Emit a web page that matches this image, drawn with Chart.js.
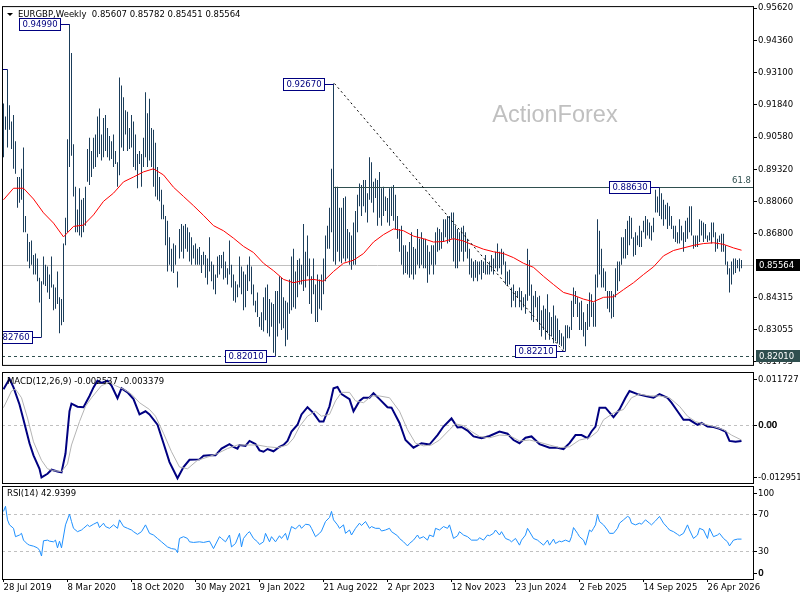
<!DOCTYPE html>
<html>
<head>
<meta charset="utf-8">
<title>EURGBP Weekly</title>
<script src="https://cdn.jsdelivr.net/npm/chart.js@4.4.1/dist/chart.umd.min.js"></script>
<style>
  html, body { margin: 0; padding: 0; background: #fff; }
  #wrap { position: relative; width: 800px; height: 600px; overflow: hidden; background: #fff; }
  canvas { position: absolute; left: 0; }
</style>
</head>
<body>
<div id="wrap">
  <canvas id="priceChart" width="800" height="371" style="top:0px"></canvas>
  <canvas id="macdChart" width="800" height="114" style="top:370px"></canvas>
  <canvas id="rsiChart" width="800" height="116" style="top:484px"></canvas>
</div>
<script>
// Weekly bars, one per week starting 28 Jul 2019 (index 0)
const highs = [
  0.9189, 0.9138, 0.9322, 0.9182, 0.9119, 0.9144, 0.9042, 0.8902, 0.8902, 0.8934,
  0.9017, 0.8750, 0.8680, 0.8648, 0.8654, 0.8597, 0.8603, 0.8584, 0.8508, 0.8495,
  0.8591, 0.8559, 0.8552, 0.8521, 0.8591, 0.8482, 0.8470, 0.8533, 0.8432, 0.8425,
  0.8642, 0.8743, 0.9049, 0.9499, 0.9386, 0.9030, 0.8864, 0.8775, 0.8858, 0.8813,
  0.8820, 0.8864, 0.9011, 0.9055, 0.9004, 0.9055, 0.9068, 0.9138, 0.9170, 0.9068,
  0.9132, 0.9144, 0.9093, 0.9062, 0.9042, 0.9068, 0.9004, 0.8960, 0.9291, 0.9259,
  0.9214, 0.9163, 0.9157, 0.9093, 0.9144, 0.9119, 0.9068, 0.8992, 0.9004, 0.8992,
  0.9055, 0.9233, 0.9151, 0.9208, 0.9093, 0.9087, 0.9036, 0.8941, 0.8902, 0.8852,
  0.8794, 0.8750, 0.8731, 0.8667, 0.8622, 0.8642, 0.8635, 0.8533, 0.8699, 0.8718,
  0.8712, 0.8718, 0.8705, 0.8686, 0.8667, 0.8635, 0.8642, 0.8622, 0.8629, 0.8597,
  0.8610, 0.8597, 0.8584, 0.8667, 0.8572, 0.8559, 0.8521, 0.8591, 0.8597, 0.8597,
  0.8610, 0.8572, 0.8546, 0.8654, 0.8559, 0.8521, 0.8495, 0.8482, 0.8591, 0.8552,
  0.8533, 0.8521, 0.8559, 0.8591, 0.8552, 0.8482, 0.8419, 0.8451, 0.8355, 0.8374,
  0.8432, 0.8470, 0.8482, 0.8425, 0.8412, 0.8406, 0.8457, 0.8457, 0.8514, 0.8508,
  0.8432, 0.8419, 0.8412, 0.8502, 0.8591, 0.8622, 0.8533, 0.8578, 0.8584, 0.8559,
  0.8718, 0.8610, 0.8673, 0.8584, 0.8514, 0.8584, 0.8482, 0.8521, 0.8502, 0.8521,
  0.8584, 0.8673, 0.8712, 0.8782, 0.8934, 0.9267, 0.8864, 0.8864, 0.8782, 0.8782,
  0.8820, 0.8826, 0.8699, 0.8686, 0.8673, 0.8724, 0.8769, 0.8833, 0.8877, 0.8871,
  0.8890, 0.8890, 0.8839, 0.8979, 0.8960, 0.8883, 0.8896, 0.8890, 0.8922, 0.8858,
  0.8864, 0.8826, 0.8820, 0.8858, 0.8864, 0.8871, 0.8833, 0.8750, 0.8699, 0.8712,
  0.8635, 0.8635, 0.8610, 0.8648, 0.8686, 0.8629, 0.8622, 0.8699, 0.8661, 0.8686,
  0.8661, 0.8661, 0.8635, 0.8610, 0.8635, 0.8635, 0.8686, 0.8705, 0.8699, 0.8686,
  0.8737, 0.8737, 0.8750, 0.8750, 0.8763, 0.8763, 0.8712, 0.8699, 0.8686, 0.8705,
  0.8712, 0.8686, 0.8661, 0.8622, 0.8584, 0.8572, 0.8578, 0.8572, 0.8572, 0.8578,
  0.8572, 0.8597, 0.8559, 0.8572, 0.8597, 0.8584, 0.8610, 0.8642, 0.8610, 0.8622,
  0.8610, 0.8572, 0.8533, 0.8540, 0.8470, 0.8482, 0.8457, 0.8457, 0.8470, 0.8457,
  0.8432, 0.8444, 0.8622, 0.8578, 0.8482, 0.8438, 0.8457, 0.8432, 0.8438, 0.8381,
  0.8400, 0.8387, 0.8444, 0.8374, 0.8355, 0.8400, 0.8361, 0.8349, 0.8304, 0.8292,
  0.8279, 0.8323, 0.8323, 0.8317, 0.8419, 0.8470, 0.8457, 0.8432, 0.8412, 0.8419,
  0.8374, 0.8336, 0.8406, 0.8451, 0.8444, 0.8412, 0.8521, 0.8737, 0.8692, 0.8622,
  0.8546, 0.8533, 0.8457, 0.8457, 0.8457, 0.8444, 0.8546, 0.8572, 0.8572, 0.8667,
  0.8667, 0.8699, 0.8731, 0.8750, 0.8743, 0.8667, 0.8686, 0.8673, 0.8712, 0.8692,
  0.8731, 0.8750, 0.8737, 0.8724, 0.8712, 0.8743, 0.8852, 0.8826, 0.8863, 0.8839,
  0.8813, 0.8794, 0.8801, 0.8788, 0.8750, 0.8712, 0.8712, 0.8686, 0.8737, 0.8712,
  0.8686, 0.8731, 0.8743, 0.8788, 0.8788, 0.8673, 0.8673, 0.8673, 0.8737, 0.8731,
  0.8724, 0.8718, 0.8673, 0.8686, 0.8724, 0.8724, 0.8686, 0.8661, 0.8673, 0.8680,
  0.8680, 0.8635, 0.8572, 0.8546, 0.8572, 0.8584, 0.8584, 0.8578, 0.8584, 0.85782
];
const lows = [
  0.8979, 0.9087, 0.9017, 0.9087, 0.9011, 0.8934, 0.8915, 0.8782, 0.8801, 0.8813,
  0.8686, 0.8686, 0.8572, 0.8546, 0.8559, 0.8521, 0.8521, 0.8495, 0.8412, 0.8276,
  0.8482, 0.8476, 0.8451, 0.8425, 0.8470, 0.8381, 0.8387, 0.8406, 0.8292, 0.8323,
  0.8336, 0.8635, 0.8686, 0.8941, 0.8985, 0.8826, 0.8686, 0.8686, 0.8673, 0.8667,
  0.8686, 0.8712, 0.8883, 0.8871, 0.8902, 0.8934, 0.8941, 0.8979, 0.8992, 0.8966,
  0.8979, 0.9004, 0.8979, 0.8966, 0.8972, 0.8941, 0.8953, 0.8864, 0.8909, 0.9017,
  0.9004, 0.9068, 0.9004, 0.9011, 0.9017, 0.8941, 0.8928, 0.8858, 0.8953, 0.8864,
  0.8941, 0.8979, 0.8941, 0.8966, 0.8941, 0.8864, 0.8826, 0.8813, 0.8807, 0.8737,
  0.8737, 0.8635, 0.8533, 0.8559, 0.8533, 0.8527, 0.8559, 0.8470, 0.8584, 0.8610,
  0.8584, 0.8622, 0.8610, 0.8572, 0.8559, 0.8584, 0.8559, 0.8559, 0.8559, 0.8527,
  0.8559, 0.8508, 0.8482, 0.8533, 0.8495, 0.8463, 0.8444, 0.8508, 0.8521, 0.8546,
  0.8502, 0.8508, 0.8482, 0.8521, 0.8470, 0.8419, 0.8412, 0.8432, 0.8470, 0.8444,
  0.8381, 0.8393, 0.8457, 0.8495, 0.8444, 0.8400, 0.8374, 0.8355, 0.8317, 0.8304,
  0.8298, 0.8342, 0.8292, 0.8279, 0.8317, 0.8215, 0.8201, 0.8279, 0.8330, 0.8304,
  0.8311, 0.8241, 0.8266, 0.8368, 0.8381, 0.8393, 0.8387, 0.8432, 0.8482, 0.8482,
  0.8457, 0.8470, 0.8514, 0.8406, 0.8368, 0.8444, 0.8336, 0.8336, 0.8387, 0.8381,
  0.8444, 0.8495, 0.8622, 0.8622, 0.8686, 0.8572, 0.8559, 0.8610, 0.8572, 0.8565,
  0.8584, 0.8572, 0.8584, 0.8559, 0.8540, 0.8559, 0.8559, 0.8686, 0.8788, 0.8750,
  0.8788, 0.8763, 0.8724, 0.8813, 0.8801, 0.8763, 0.8820, 0.8712, 0.8743, 0.8712,
  0.8750, 0.8769, 0.8724, 0.8712, 0.8750, 0.8731, 0.8699, 0.8661, 0.8610, 0.8559,
  0.8521, 0.8527, 0.8521, 0.8508, 0.8521, 0.8502, 0.8521, 0.8559, 0.8546, 0.8559,
  0.8546, 0.8546, 0.8489, 0.8521, 0.8559, 0.8521, 0.8559, 0.8610, 0.8616, 0.8622,
  0.8648, 0.8667, 0.8642, 0.8648, 0.8661, 0.8572, 0.8546, 0.8546, 0.8572, 0.8610,
  0.8572, 0.8610, 0.8584, 0.8521, 0.8508, 0.8495, 0.8508, 0.8495, 0.8521, 0.8502,
  0.8527, 0.8521, 0.8521, 0.8521, 0.8533, 0.8521, 0.8546, 0.8533, 0.8546, 0.8521,
  0.8559, 0.8482, 0.8476, 0.8482, 0.8393, 0.8419, 0.8393, 0.8432, 0.8393, 0.8381,
  0.8393, 0.8368, 0.8419, 0.8438, 0.8342, 0.8336, 0.8393, 0.8336, 0.8304, 0.8279,
  0.8304, 0.8266, 0.8292, 0.8266, 0.8279, 0.8253, 0.8260, 0.8253, 0.8247, 0.8241,
  0.8228, 0.8221, 0.8272, 0.8272, 0.8304, 0.8355, 0.8406, 0.8355, 0.8304, 0.8304,
  0.8279, 0.8241, 0.8304, 0.8317, 0.8355, 0.8317, 0.8317, 0.8470, 0.8521, 0.8470,
  0.8470, 0.8457, 0.8387, 0.8374, 0.8349, 0.8355, 0.8432, 0.8457, 0.8495, 0.8559,
  0.8584, 0.8584, 0.8597, 0.8635, 0.8661, 0.8591, 0.8597, 0.8635, 0.8629, 0.8629,
  0.8686, 0.8661, 0.8673, 0.8661, 0.8654, 0.8686, 0.8763, 0.8763, 0.8750, 0.8737,
  0.8712, 0.8737, 0.8699, 0.8712, 0.8699, 0.8661, 0.8648, 0.8642, 0.8642, 0.8654,
  0.8610, 0.8648, 0.8661, 0.8686, 0.8673, 0.8622, 0.8629, 0.8629, 0.8648, 0.8673,
  0.8648, 0.8661, 0.8648, 0.8654, 0.8642, 0.8667, 0.8610, 0.8622, 0.8648, 0.8610,
  0.8610, 0.8559, 0.8521, 0.8451, 0.8482, 0.8521, 0.8527, 0.8546, 0.8533, 0.85451
];

// [week, value] samples
const movingAvg = [
  [0, 0.8813], [5, 0.8858], [10, 0.8858], [15, 0.8816], [20, 0.8762], [25, 0.8722], [30, 0.8668],
  [35, 0.8709], [40, 0.8714], [45, 0.8754], [50, 0.8807], [55, 0.8839], [60, 0.8883], [65, 0.8902],
  [70, 0.8922], [75, 0.8934], [80, 0.8910], [85, 0.8862], [90, 0.8826], [95, 0.8790], [100, 0.8752],
  [105, 0.8712], [110, 0.8692], [115, 0.8663], [120, 0.8631], [125, 0.8607], [130, 0.8565], [135, 0.8536],
  [140, 0.8502], [145, 0.8489], [150, 0.8498], [155, 0.8502], [160, 0.8495], [165, 0.8533], [170, 0.8565],
  [175, 0.8577], [180, 0.8603], [185, 0.8648], [190, 0.8677], [195, 0.8699], [200, 0.8692], [205, 0.8671],
  [210, 0.8661], [215, 0.8648], [220, 0.8650], [225, 0.8661], [230, 0.8652], [235, 0.8635], [240, 0.8620],
  [245, 0.8610], [250, 0.8603], [255, 0.8587], [260, 0.8565], [265, 0.8549], [270, 0.8514], [275, 0.8482],
  [280, 0.8451], [285, 0.8440], [290, 0.8425], [295, 0.8415], [300, 0.8432], [305, 0.8434], [310, 0.8462],
  [315, 0.8489], [320, 0.8521], [325, 0.8551], [330, 0.8594], [335, 0.8615], [340, 0.8625], [345, 0.8635],
  [350, 0.8642], [355, 0.8645], [360, 0.8639], [365, 0.8625], [369, 0.8616]
];
const macdLine = [
  [0, 0.0079], [3, 0.0102], [5, 0.0083], [8, 0.0045], [10, 0.0011], [13, -0.0041], [15, -0.0068],
  [18, -0.0098], [19, -0.0117], [22, -0.0109], [24, -0.0100], [27, -0.0104], [29, -0.0106], [31, -0.0064],
  [33, 0.0030], [34, 0.0047], [37, 0.0040], [40, 0.0039], [43, 0.0064], [45, 0.0083], [47, 0.0098],
  [49, 0.0093], [52, 0.0098], [54, 0.0087], [57, 0.0059], [59, 0.0081], [62, 0.0072], [65, 0.0057],
  [68, 0.0023], [71, 0.0030], [73, 0.0023], [77, 0.0000], [80, -0.0041], [83, -0.0083], [87, -0.0119],
  [90, -0.0094], [93, -0.0078], [98, -0.0077], [100, -0.0069], [103, -0.0068], [106, -0.0068], [109, -0.0053],
  [113, -0.0043], [115, -0.0049], [117, -0.0053], [118, -0.0045], [121, -0.0047], [123, -0.0036], [126, -0.0043],
  [128, -0.0057], [130, -0.0060], [132, -0.0054], [135, -0.0059], [138, -0.0049], [140, -0.0045], [142, -0.0036],
  [144, -0.0015], [147, 0.0000], [149, 0.0023], [152, 0.0039], [155, 0.0026], [158, 0.0007], [160, 0.0007],
  [163, 0.0041], [165, 0.0081], [167, 0.0084], [169, 0.0068], [173, 0.0057], [175, 0.0030], [178, 0.0053],
  [180, 0.0060], [183, 0.0060], [185, 0.0070], [188, 0.0057], [192, 0.0039], [194, 0.0038], [198, 0.0004],
  [201, -0.0034], [205, -0.0051], [209, -0.0041], [213, -0.0044], [217, -0.0023], [220, -0.0004], [224, 0.0014],
  [227, -0.0006], [229, -0.0005], [232, -0.0013], [235, -0.0026], [239, -0.0030], [243, -0.0025], [248, -0.0015],
  [252, -0.0020], [255, -0.0034], [258, -0.0041], [261, -0.0029], [264, -0.0026], [268, -0.0043], [273, -0.0051],
  [277, -0.0051], [280, -0.0054], [283, -0.0041], [286, -0.0023], [289, -0.0023], [292, -0.0030], [294, -0.0015],
  [296, -0.0004], [298, 0.0038], [301, 0.0038], [305, 0.0017], [308, 0.0034], [311, 0.0060], [313, 0.0075],
  [317, 0.0068], [321, 0.0064], [325, 0.0060], [328, 0.0068], [332, 0.0060], [334, 0.0049], [337, 0.0030],
  [340, 0.0011], [343, 0.0011], [347, 0.0000], [349, 0.0004], [352, -0.0004], [355, -0.0005], [358, -0.0009],
  [361, -0.0015], [363, -0.0036], [366, -0.0038], [369, -0.0036]
];
const signalLine = [
  [0, 0.0038], [4, 0.0075], [6, 0.0079], [9, 0.0060], [12, 0.0015], [15, -0.0038], [19, -0.0079],
  [22, -0.0098], [25, -0.0102], [29, -0.0104], [32, -0.0087], [34, -0.0045], [38, 0.0007], [41, 0.0041],
  [44, 0.0060], [49, 0.0087], [53, 0.0094], [56, 0.0087], [60, 0.0079], [64, 0.0068], [68, 0.0049],
  [73, 0.0034], [76, 0.0019], [80, -0.0019], [84, -0.0060], [88, -0.0094], [92, -0.0098], [97, -0.0079],
  [102, -0.0072], [107, -0.0064], [112, -0.0053], [117, -0.0045], [122, -0.0045], [127, -0.0045], [132, -0.0049],
  [137, -0.0051], [142, -0.0045], [145, -0.0030], [148, -0.0004], [152, 0.0019], [156, 0.0030], [159, 0.0019],
  [163, 0.0023], [166, 0.0053], [169, 0.0072], [173, 0.0072], [176, 0.0053], [180, 0.0049], [184, 0.0064],
  [188, 0.0064], [193, 0.0060], [198, 0.0030], [202, -0.0011], [206, -0.0041], [210, -0.0047], [214, -0.0045],
  [218, -0.0034], [223, -0.0011], [226, 0.0002], [230, -0.0002], [234, -0.0015], [238, -0.0026], [243, -0.0029],
  [248, -0.0023], [253, -0.0024], [258, -0.0036], [263, -0.0034], [268, -0.0039], [273, -0.0045], [278, -0.0051],
  [283, -0.0049], [288, -0.0034], [293, -0.0029], [297, -0.0015], [300, 0.0011], [305, 0.0026], [310, 0.0034],
  [314, 0.0060], [318, 0.0068], [323, 0.0064], [328, 0.0064], [333, 0.0060], [338, 0.0041], [342, 0.0019],
  [346, 0.0007], [350, 0.0002], [355, -0.0004], [360, -0.0011], [364, -0.0023], [369, -0.0034]
];
const rsiLine = [
  [0, 72.7], [1, 78.2], [2, 63.6], [3, 58.2], [5, 54.5], [6, 45.5], [8, 47.3], [9, 49.1], [10, 41.8],
  [12, 37.5], [13, 36.4], [15, 35.3], [17, 33.5], [18, 30.9], [19, 24.7], [20, 41.1], [22, 41.8], [23, 40.7],
  [25, 40.0], [26, 41.8], [27, 33.5], [28, 40.7], [29, 33.5], [31, 58.2], [33, 69.8], [34, 61.8], [35, 54.5],
  [37, 50.9], [39, 52.7], [40, 54.5], [42, 58.2], [43, 56.4], [45, 58.9], [47, 61.1], [48, 55.3], [50, 60.0],
  [51, 56.4], [53, 54.5], [55, 58.2], [57, 54.5], [58, 63.6], [60, 56.4], [62, 54.5], [64, 52.7], [65, 50.9],
  [67, 48.0], [69, 50.9], [71, 58.2], [73, 49.1], [75, 47.3], [77, 43.6], [79, 40.0], [82, 34.5], [84, 32.7],
  [86, 32.0], [87, 28.4], [88, 43.6], [90, 45.5], [92, 43.6], [93, 40.0], [95, 39.3], [98, 40.0], [100, 39.3],
  [103, 40.7], [105, 32.7], [108, 45.5], [109, 43.6], [111, 40.0], [113, 47.3], [114, 34.5], [116, 38.2],
  [118, 49.1], [119, 34.5], [120, 43.6], [122, 49.1], [123, 50.9], [125, 43.6], [127, 40.0], [128, 37.1],
  [130, 40.0], [131, 49.1], [133, 40.0], [134, 45.5], [136, 40.0], [138, 46.5], [139, 43.6], [141, 49.1],
  [142, 41.8], [144, 56.4], [146, 53.8], [148, 58.2], [149, 54.5], [151, 58.9], [153, 58.2], [154, 54.5],
  [156, 45.5], [158, 49.1], [159, 51.6], [161, 61.8], [163, 66.2], [164, 72.7], [165, 63.6], [167, 58.2],
  [168, 54.5], [170, 58.2], [171, 49.1], [173, 52.7], [174, 47.3], [176, 54.5], [178, 60.0], [179, 57.5],
  [181, 61.8], [183, 54.5], [184, 56.4], [186, 54.5], [188, 54.5], [189, 51.6], [191, 52.7], [193, 54.5],
  [194, 50.9], [197, 46.5], [198, 43.6], [200, 40.0], [202, 35.6], [203, 38.2], [205, 41.8], [207, 47.3],
  [208, 43.6], [210, 45.5], [212, 41.8], [213, 47.3], [215, 45.5], [216, 54.5], [218, 52.7], [220, 56.4],
  [222, 54.5], [223, 58.2], [225, 43.6], [227, 46.5], [228, 50.9], [230, 47.3], [232, 45.5], [234, 41.8],
  [237, 41.8], [238, 44.4], [240, 41.8], [242, 47.3], [243, 46.5], [245, 49.1], [246, 52.7], [248, 47.3],
  [249, 50.9], [251, 43.6], [253, 41.8], [254, 40.0], [256, 43.6], [258, 36.4], [259, 41.8], [261, 47.3],
  [262, 54.5], [264, 47.3], [265, 43.6], [267, 41.8], [268, 40.0], [270, 36.4], [272, 41.8], [273, 36.4],
  [275, 42.9], [276, 38.2], [278, 40.7], [279, 40.0], [281, 41.8], [283, 40.0], [284, 45.5], [285, 55.3],
  [287, 49.1], [288, 45.5], [290, 41.8], [291, 36.4], [293, 52.7], [294, 50.9], [295, 54.5], [296, 58.2],
  [297, 69.1], [298, 61.8], [300, 58.2], [302, 52.7], [303, 49.1], [305, 49.1], [307, 54.5], [308, 60.0],
  [310, 63.6], [312, 67.3], [313, 66.2], [314, 60.0], [316, 58.2], [318, 60.0], [319, 58.9], [321, 63.6],
  [323, 60.0], [324, 58.2], [326, 62.5], [328, 67.3], [330, 60.0], [332, 55.3], [333, 52.7], [335, 50.9],
  [337, 48.0], [338, 46.5], [340, 49.1], [342, 58.2], [343, 52.7], [345, 43.6], [347, 47.3], [348, 54.5],
  [350, 52.7], [352, 43.6], [353, 54.5], [355, 45.5], [357, 47.3], [358, 49.1], [360, 43.6], [362, 40.0],
  [363, 35.6], [365, 41.8], [367, 42.9], [369, 42.9]
];

const lastBar = [0.85607, 0.85782, 0.85451, 0.85564];   // O H L C
const macdLast = [-0.002537, -0.003379];
const rsiLast = 42.9399;

const priceTicks = [0.95620, 0.94360, 0.93100, 0.91840, 0.90580, 0.89320, 0.88060, 0.86800, 0.84315, 0.83055, 0.81795];
const macdTicks = [0.011727, 0, -0.012951];
const rsiTicks = [100, 70, 30, 0];
const rsiLevels = [70, 30];
const dateWeeks = [0, 32, 64, 96, 128, 160, 192, 224, 256, 288, 320, 352];
const dateLabels = ['28 Jul 2019', '8 Mar 2020', '18 Oct 2020', '30 May 2021', '9 Jan 2022', '21 Aug 2022',
  '2 Apr 2023', '12 Nov 2023', '23 Jun 2024', '2 Feb 2025', '14 Sep 2025', '26 Apr 2026'];

// swing points that carry a price tag
const swingHighs = [2, 33, 165, 328];
const swingLows = [19, 136, 281];
const trendFrom = 165;     // 0.92670 high
const trendTo = 281;       // 0.82210 low
const fibStart = 165;
const fib618 = 0.8866;

const FAMILY = '"DejaVu Sans", Tahoma, sans-serif';
const FONT = '8.5px ' + FAMILY;
const tickFont = { family: FAMILY, size: 8.5 };
const X_MIN = -0.75, X_MAX = 374.75;

const toXY = pairs => pairs.map(p => ({ x: p[0], y: p[1] }));

function drawFrame(chart) {
  const { ctx, chartArea: a } = chart;
  ctx.save();
  ctx.strokeStyle = '#000';
  ctx.lineWidth = 1;
  ctx.setLineDash([]);
  ctx.strokeRect(a.left + 0.5, a.top + 0.5, a.right - a.left, a.bottom - a.top);
  ctx.restore();
}

function hLine(ctx, x1, x2, y, color, dash) {
  const yy = Math.round(y) + 0.5;
  ctx.save();
  ctx.strokeStyle = color;
  ctx.lineWidth = 1;
  ctx.setLineDash(dash);
  ctx.beginPath();
  ctx.moveTo(x1, yy);
  ctx.lineTo(x2, yy);
  ctx.stroke();
  ctx.restore();
}

function clipArea(chart) {
  const { ctx, chartArea: a } = chart;
  ctx.beginPath();
  ctx.rect(a.left, a.top, a.right - a.left, a.bottom - a.top);
  ctx.clip();
}

function tagLabel(chart, i, v) {
  const { ctx } = chart;
  const bx = chart.scales.x.getPixelForValue(i);
  const by = Math.round(chart.scales.y.getPixelForValue(v)) + 0.5;
  const text = v.toFixed(5);
  ctx.font = FONT;
  const w = Math.round(ctx.measureText(text).width) + 6;
  const h = 12;
  const right = Math.round(bx - 10) + 0.5;
  const left = right - w;
  ctx.strokeStyle = '#000080';
  ctx.lineWidth = 1;
  ctx.setLineDash([]);
  ctx.beginPath();
  ctx.moveTo(right, by);
  ctx.lineTo(bx, by);
  ctx.stroke();
  ctx.fillStyle = '#fff';
  ctx.fillRect(left, by - h / 2, w, h);
  ctx.strokeRect(left, by - h / 2, w, h);
  ctx.fillStyle = '#000080';
  ctx.textAlign = 'center';
  ctx.textBaseline = 'middle';
  ctx.fillText(text, left + w / 2, by + 0.5);
}

function priceBox(chart, v, bg) {
  const { ctx, chartArea: a } = chart;
  const cy = Math.round(chart.scales.y.getPixelForValue(v));
  ctx.save();
  ctx.fillStyle = bg;
  ctx.fillRect(a.right + 3, cy - 6, chart.width - a.right - 3, 12);
  ctx.fillStyle = '#fff';
  ctx.font = FONT;
  ctx.textAlign = 'left';
  ctx.textBaseline = 'middle';
  ctx.fillText(v.toFixed(5), a.right + 6, cy + 0.5);
  ctx.restore();
}

// right-hand labels for the indicator panes, kept inside the pane edges
function sideLabels(chart, values, fmt) {
  const { ctx, chartArea: a } = chart;
  const y = chart.scales.y;
  ctx.save();
  ctx.font = FONT;
  ctx.fillStyle = '#000';
  ctx.strokeStyle = '#000';
  ctx.lineWidth = 1;
  ctx.textAlign = 'left';
  ctx.textBaseline = 'middle';
  values.forEach(v => {
    const ly = Math.round(Math.min(Math.max(y.getPixelForValue(v), a.top + 7), a.bottom - 6));
    ctx.beginPath();
    ctx.moveTo(a.right, ly + 0.5);
    ctx.lineTo(a.right + 4, ly + 0.5);
    ctx.stroke();
    ctx.fillText(fmt(v), a.right + 5, ly + 0.5);
    if (v === 0) ctx.fillText(fmt(v), a.right + 5.6, ly + 0.5);
  });
  ctx.restore();
}

function header(chart, text, dy) {
  const { ctx, chartArea: a } = chart;
  ctx.save();
  ctx.font = FONT;
  ctx.fillStyle = '#000';
  ctx.textAlign = 'left';
  ctx.textBaseline = 'middle';
  ctx.fillText(text, a.left + 5, a.top + dy);
  ctx.restore();
}

const pricePlugin = {
  id: 'priceOverlay',
  beforeDatasetsDraw(chart) {
    const { ctx, chartArea: a, scales: { y } } = chart;
    ctx.save();
    clipArea(chart);
    ctx.font = '23.5px "Liberation Sans", Arial, sans-serif';
    ctx.fillStyle = '#c0c0c0';
    ctx.textAlign = 'center';
    ctx.textBaseline = 'alphabetic';
    ctx.fillText('ActionForex', 555, 122);
    hLine(ctx, a.left, a.right, y.getPixelForValue(lastBar[3]), '#c0c0c0', []);
    hLine(ctx, a.left, a.right, y.getPixelForValue(lows[136]), '#2f4f4f', [3, 3]);
    ctx.restore();
  },
  afterDatasetsDraw(chart) {
    const { ctx, chartArea: a, scales: { x, y } } = chart;
    ctx.save();
    clipArea(chart);

    // 61.8% retracement of the 0.8201 - 0.9267 swing
    const fy = Math.round(y.getPixelForValue(fib618)) + 0.5;
    hLine(ctx, x.getPixelForValue(fibStart), a.right, fy, '#2f4f4f', []);
    ctx.font = FONT;
    ctx.fillStyle = '#2f4f4f';
    ctx.textAlign = 'right';
    ctx.textBaseline = 'bottom';
    ctx.fillText('61.8', a.right - 2, fy - 1);

    // falling trend line
    ctx.strokeStyle = '#000';
    ctx.lineWidth = 1;
    ctx.setLineDash([2, 3]);
    ctx.beginPath();
    ctx.moveTo(x.getPixelForValue(trendFrom) + 1, y.getPixelForValue(highs[trendFrom]));
    ctx.lineTo(x.getPixelForValue(trendTo) - 2, y.getPixelForValue(lows[trendTo]));
    ctx.stroke();
    ctx.setLineDash([]);

    swingHighs.forEach(i => tagLabel(chart, i, highs[i]));
    swingLows.forEach(i => tagLabel(chart, i, lows[i]));

    // symbol header
    ctx.fillStyle = '#000';
    ctx.beginPath();
    ctx.moveTo(a.left + 5, a.top + 7);
    ctx.lineTo(a.left + 11, a.top + 7);
    ctx.lineTo(a.left + 8, a.top + 10);
    ctx.closePath();
    ctx.fill();
    ctx.font = FONT;
    ctx.textAlign = 'left';
    ctx.textBaseline = 'middle';
    ctx.fillText('EURGBP,Weekly  ' + lastBar.map(v => v.toFixed(5)).join(' '), a.left + 16, a.top + 9);
    ctx.restore();

    priceBox(chart, lastBar[3], '#000');
    priceBox(chart, lows[136], '#2f4f4f');
  },
  afterDraw(chart) { drawFrame(chart); }
};

const macdPlugin = {
  id: 'macdOverlay',
  beforeDatasetsDraw(chart) {
    const { ctx, chartArea: a, scales: { y } } = chart;
    hLine(ctx, a.left, a.right, y.getPixelForValue(0), '#c0c0c0', [3, 3]);
  },
  afterDraw(chart) {
    header(chart, 'MACD(12,26,9) ' + macdLast.map(v => v.toFixed(6)).join(' '), 10);
    sideLabels(chart, macdTicks, v => (v === 0 ? '0.00' : v.toFixed(6)));
    drawFrame(chart);
  }
};

const rsiPlugin = {
  id: 'rsiOverlay',
  beforeDatasetsDraw(chart) {
    const { ctx, chartArea: a, scales: { y } } = chart;
    rsiLevels.forEach(l => hLine(ctx, a.left, a.right, y.getPixelForValue(l), '#c0c0c0', [3, 3]));
  },
  afterDraw(chart) {
    header(chart, 'RSI(14) ' + rsiLast.toFixed(4), 8);
    sideLabels(chart, rsiTicks, v => String(v));
    drawFrame(chart);
  }
};

const baseOptions = {
  animation: false,
  responsive: false,
  events: [],
  plugins: { legend: { display: false }, tooltip: { enabled: false } }
};

const hiddenX = { type: 'linear', min: X_MIN, max: X_MAX, offset: false, display: false };
const blankRightY = (min, max) => ({
  position: 'right', min: min, max: max,
  afterFit: s => { s.width = 47; },
  ticks: { display: false }, grid: { display: false }, border: { display: false }
});

// Price pane
new Chart(document.getElementById('priceChart'), {
  type: 'bar',
  data: {
    datasets: [
      {
        type: 'line', data: toXY(movingAvg), borderColor: '#ff0000', borderWidth: 1,
        pointRadius: 0, tension: 0, order: 0
      },
      {
        type: 'bar', data: highs.map((h, i) => ({ x: i, y: [lows[i], h] })),
        backgroundColor: '#1b3d5a', barThickness: 1, inflateAmount: 0, grouped: false, order: 1
      }
    ]
  },
  options: {
    ...baseOptions,
    layout: { padding: { left: 2, top: 2, right: 0, bottom: 2 } },
    scales: {
      x: hiddenX,
      y: {
        position: 'right', min: 0.81680, max: 0.95696,
        afterFit: s => { s.width = 47; },
        afterBuildTicks: s => { s.ticks = priceTicks.map(v => ({ value: v })); },
        ticks: { callback: v => v.toFixed(5), color: '#000', font: tickFont, padding: 1, autoSkip: false },
        grid: { drawOnChartArea: false, drawTicks: true, tickLength: 4, color: '#000' },
        border: { display: false }
      }
    }
  },
  plugins: [pricePlugin]
});

// MACD pane
new Chart(document.getElementById('macdChart'), {
  type: 'line',
  data: {
    datasets: [
      { data: toXY(signalLine), borderColor: '#b4b4b4', borderWidth: 1, pointRadius: 0, tension: 0 },
      { data: toXY(macdLine), borderColor: '#000080', borderWidth: 2, pointRadius: 0, tension: 0 }
    ]
  },
  options: {
    ...baseOptions,
    layout: { padding: { left: 2, top: 2, right: 0, bottom: 1 } },
    scales: { x: hiddenX, y: blankRightY(macdTicks[2], macdTicks[0]) }
  },
  plugins: [macdPlugin]
});

// RSI pane with the date axis
new Chart(document.getElementById('rsiChart'), {
  type: 'line',
  data: {
    datasets: [
      { data: toXY(rsiLine), borderColor: '#1e90ff', borderWidth: 1, pointRadius: 0, tension: 0 }
    ]
  },
  options: {
    ...baseOptions,
    layout: { padding: { left: 2, top: 2, right: 0, bottom: 0 } },
    scales: {
      x: {
        type: 'linear', min: X_MIN, max: X_MAX, offset: false, position: 'bottom',
        afterFit: s => { s.height = 21; },
        afterBuildTicks: s => { s.ticks = dateWeeks.map(v => ({ value: v })); },
        ticks: {
          callback: v => dateLabels[dateWeeks.indexOf(v)],
          align: 'start', maxRotation: 0, minRotation: 0, autoSkip: false,
          padding: 1, color: '#000', font: tickFont
        },
        grid: { drawOnChartArea: false, drawTicks: true, tickLength: 3, color: '#000' },
        border: { display: false }
      },
      y: blankRightY(0, 100)
    }
  },
  plugins: [rsiPlugin]
});
</script>
</body>
</html>
